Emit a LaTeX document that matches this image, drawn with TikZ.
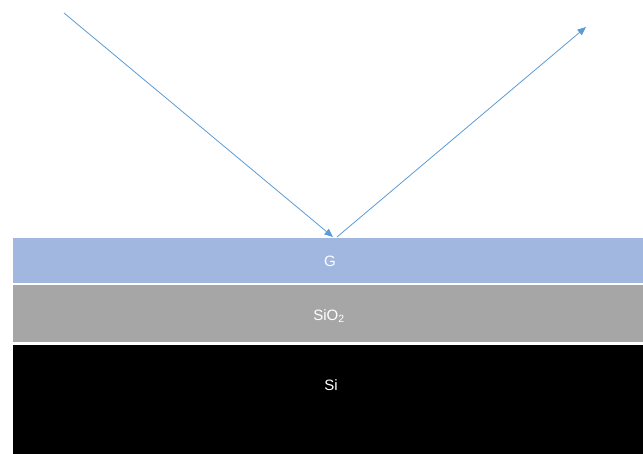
\documentclass[tikz,border=0pt]{standalone}
\usepackage{fontspec}
\setmainfont{Liberation Sans}
\usetikzlibrary{arrows.meta}
\definecolor{gcol}{HTML}{A2B7E0}
\definecolor{oxcol}{HTML}{A6A6A6}
\definecolor{raycol}{HTML}{5B9BD5}
\begin{document}
\begin{tikzpicture}[x=1pt,y=-1pt,
    layer/.style={draw=white,line width=1.2pt},
    lbl/.style={text=white,font=\fontsize{15}{17}\selectfont,inner sep=0pt},
    ray/.style={raycol,line width=0.8pt,-{Triangle[length=8.5pt,width=7pt]}}]
                \useasboundingbox (0,0) rectangle (643,454);
                \draw[layer,fill=gcol] (12,237) rectangle (650,283.5);
                \draw[layer,fill=oxcol] (12,284.5) rectangle (650,343);
                \draw[layer,fill=black] (12,344.5) rectangle (650,460);
                \node[lbl] (g) at (330,261) {G};
                \node[lbl] (sio) at (329,316) {SiO\textsubscript{2}};
                \node[lbl] (si) at (331,385) {Si};
                \coordinate (src) at (64,13);
                \coordinate (hit) at (333,237);
                \coordinate (exit) at (337,237);
                \coordinate (dst) at (586,27);
                \draw[ray] (src) -- (hit);
                \draw[ray] (exit) -- (dst);
            \end{tikzpicture}
\end{document}
